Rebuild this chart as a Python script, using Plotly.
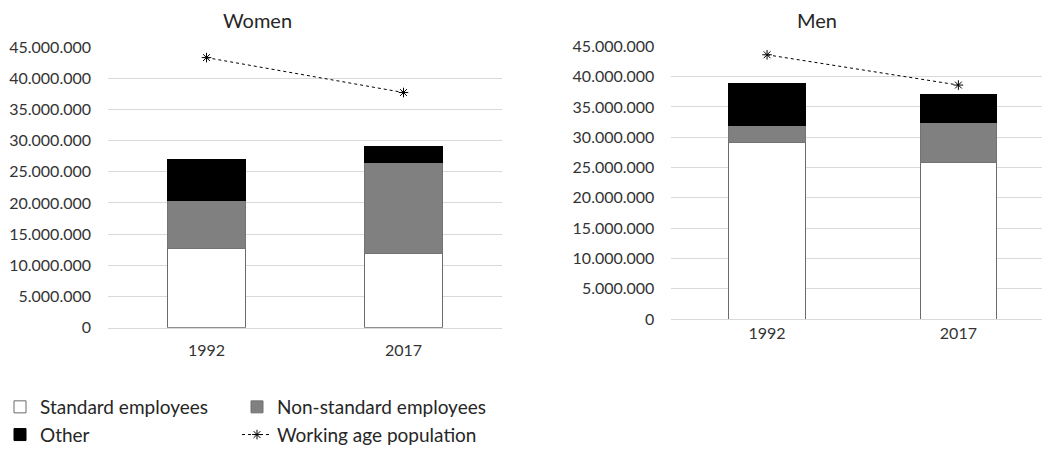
import plotly.graph_objects as go

years = ["1992", "2017"]
women_standard = [12.7e6, 11.9e6]
women_nonstandard = [7.7e6, 14.6e6]
women_other = [6.5e6, 2.6e6]
women_population = [43.3e6, 37.7e6]

men_standard = [29.1e6, 25.8e6]
men_nonstandard = [2.9e6, 6.7e6]
men_other = [6.8e6, 4.5e6]
men_population = [43.6e6, 38.6e6]

tick_vals = [0, 5e6, 10e6, 15e6, 20e6, 25e6, 30e6, 35e6, 40e6, 45e6]

W, H = 1042, 455
FONT = "Lato"

fig = go.Figure()

series = [
    ("Standard employees", "white", "#6b6b6b", women_standard, men_standard, "legend"),
    ("Non-standard employees", "#808080", "#737373", women_nonstandard, men_nonstandard, "legend2"),
    ("Other", "black", "black", women_other, men_other, "legend"),
]
for name, fill, line, wv, mv, lg in series:
    fig.add_trace(go.Bar(x=years, y=wv, name=name, marker=dict(color=fill, line=dict(color=line, width=1)),
                         xaxis="x", yaxis="y", legendgroup=name, legend=lg, showlegend=True))
    fig.add_trace(go.Bar(x=years, y=mv, name=name, marker=dict(color=fill, line=dict(color=line, width=1)),
                         xaxis="x2", yaxis="y2", legendgroup=name, legend=lg, showlegend=False))

for pv, xa, ya, sl in [(women_population, "x", "y", True), (men_population, "x2", "y2", False)]:
    fig.add_trace(go.Scatter(x=years, y=pv, name="Working age population", mode="lines+markers",
                             line=dict(color="black", width=1, dash="dot"),
                             marker=dict(symbol="asterisk-open", size=8, color="black",
                                         line=dict(color="black", width=1)),
                             xaxis=xa, yaxis=ya, legendgroup="pop", legend="legend2", showlegend=sl))

def px_x(p):
    return p / W

def px_y(p):
    return 1 - p / H

tickfont = dict(family=FONT, size=16, color="#333333")

fig.update_layout(
    template=None,
    width=W, height=H,
    margin=dict(l=0, r=0, t=0, b=0, autoexpand=False),
    paper_bgcolor="white", plot_bgcolor="white",
    barmode="stack", bargap=0.6,
    separators=",.",
    hovermode=False,
    font=dict(family=FONT, color="#262626"),
    xaxis=dict(domain=[px_x(108), px_x(502)], type="category", range=[-0.5, 1.5], automargin=False,
               showline=True, linecolor="#d9d9d9", linewidth=1, ticks="", tickfont=tickfont,
               showgrid=False, zeroline=False, ticklabelstandoff=8, fixedrange=True),
    yaxis=dict(domain=[px_y(327.7), px_y(47)], range=[0, 45e6], tickvals=tick_vals, tickformat=",d",
               automargin=False, showgrid=True, gridcolor="#d9d9d9", gridwidth=1, zeroline=False,
               showline=False, ticks="", tickfont=tickfont, ticklabelstandoff=16, fixedrange=True),
    xaxis2=dict(domain=[px_x(671.4), 1], type="category", range=[-0.5, 1.437], automargin=False,
                showline=True, linecolor="#d9d9d9", linewidth=1, ticks="", tickfont=tickfont,
                showgrid=False, zeroline=False, ticklabelstandoff=0, fixedrange=True, anchor="y2"),
    yaxis2=dict(domain=[px_y(319), px_y(46.3)], range=[0, 45e6], tickvals=tick_vals, tickformat=",d",
                automargin=False, showgrid=True, gridcolor="#d9d9d9", gridwidth=1, zeroline=False,
                showline=False, ticks="", tickfont=tickfont, ticklabelstandoff=16, fixedrange=True,
                anchor="x2"),
    legend=dict(x=0, y=px_y(388), xanchor="left", yanchor="top", orientation="v",
                font=dict(family=FONT, size=19, color="#262626"), tracegroupgap=10,
                bgcolor="rgba(0,0,0,0)", traceorder="normal"),
    legend2=dict(x=px_x(237), y=px_y(388), xanchor="left", yanchor="top", orientation="v",
                 font=dict(family=FONT, size=19, color="#262626"), tracegroupgap=10,
                 bgcolor="rgba(0,0,0,0)", traceorder="normal"),
    annotations=[
        dict(text="Women", x=px_x(257.7), y=px_y(20), xref="paper", yref="paper", showarrow=False,
             xanchor="center", yanchor="middle", font=dict(family=FONT, size=20, color="#262626")),
        dict(text="Men", x=px_x(816.7), y=px_y(20), xref="paper", yref="paper", showarrow=False,
             xanchor="center", yanchor="middle", font=dict(family=FONT, size=20, color="#262626")),
    ],
)

fig.write_html("out.html")
